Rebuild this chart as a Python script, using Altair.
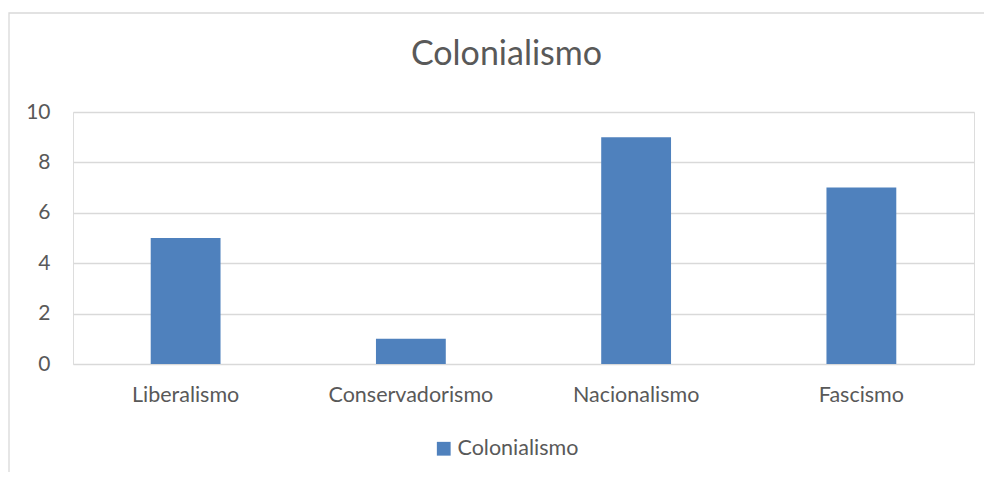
import altair as alt
import pandas as pd

categories = ["Liberalismo", "Conservadorismo", "Nacionalismo", "Fascismo"]
values = [5, 1, 9, 7]
series = ["Colonialismo"] * 4

df = pd.DataFrame({"cat": categories, "val": values, "series": series})

FONT = "Lato"
TXT = "#595959"
GRID = "#D9D9D9"

bars = alt.Chart(df).mark_bar(color="#4F81BD").encode(
    x=alt.X("cat:N", sort=categories, title=None,
            scale=alt.Scale(paddingInner=0.69, paddingOuter=0.345),
            axis=alt.Axis(labelAngle=0, labelFont=FONT, labelFontSize=21.5,
                          labelColor=TXT, ticks=False, domain=False,
                          labelPadding=20, grid=False)),
    y=alt.Y("val:Q", title=None,
            scale=alt.Scale(domain=[0, 10]),
            axis=alt.Axis(values=[0, 2, 4, 6, 8, 10], labelFont=FONT,
                          labelFontSize=21, labelColor=TXT, ticks=False,
                          domain=False, labelPadding=23, gridColor=GRID,
                          gridWidth=1.3)),
    color=alt.Color("series:N", title=None,
                    scale=alt.Scale(range=["#4F81BD"]),
                    legend=alt.Legend(orient="none", legendX=360, legendY=326,
                                      symbolType="square", symbolSize=190,
                                      symbolStrokeWidth=0,
                                      labelFont=FONT, labelFontSize=21.5,
                                      labelColor=TXT, labelOffset=3)),
)

border = alt.Chart(pd.DataFrame({"b": [0]})).mark_rect(
    fillOpacity=0, stroke=GRID, strokeWidth=1.3
).encode(
    x=alt.value(-64), x2=alt.value(960),
    y=alt.value(-99), y2=alt.value(420),
)

chart = alt.layer(border, bars).properties(
    width=901, height=252,
    title=alt.TitleParams("Colonialismo", font=FONT, fontSize=34,
                          fontWeight="normal", color=TXT, anchor="middle",
                          dx=-17, offset=-60),
    padding={"left": 65, "top": 104, "right": 10, "bottom": 108},
    autosize=alt.AutoSizeParams(type="none"),
).configure_view(stroke=None).configure(background="white")

chart.save("out.html", embed_options={"renderer": "svg", "actions": False})
